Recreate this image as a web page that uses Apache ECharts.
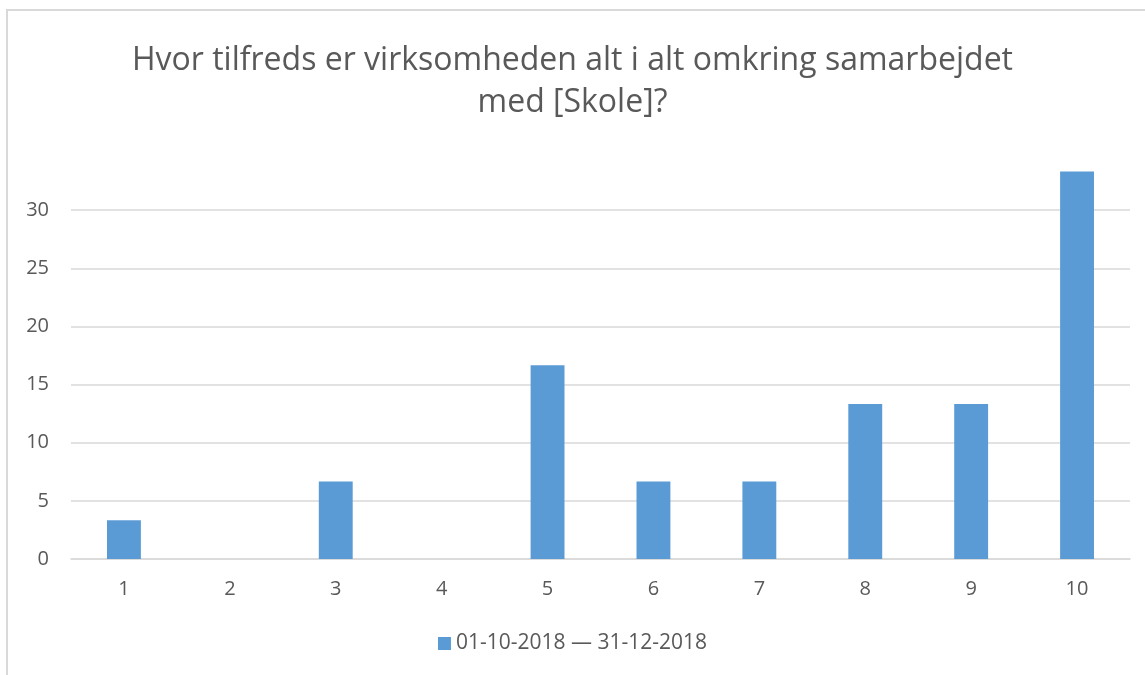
<!DOCTYPE html>
<html>
<head>
<meta charset="utf-8">
<script src="https://cdn.jsdelivr.net/npm/echarts@6/dist/echarts.min.js"></script>
<style>
  html, body { margin: 0; padding: 0; background: #fff; }
  #frame { position: absolute; left: 6px; top: 9px; width: 1200px; height: 700px; border: 2px solid #d9d9d9; }
  #main { position: absolute; left: 0; top: 0; width: 1145px; height: 675px; }
</style>
</head>
<body>
<div id="frame"></div>
<div id="main"></div>
<script>
var categories = ["1", "2", "3", "4", "5", "6", "7", "8", "9", "10"];
var values = [3.33, 0, 6.67, 0, 16.67, 6.67, 6.67, 13.33, 13.33, 33.33];
var seriesName = "01-10-2018 \u2014 31-12-2018";
var titleText = "Hvor tilfreds er virksomheden alt i alt omkring samarbejdet\nmed [Skole]?";

var font = "'Open Sans', 'Noto Sans', sans-serif";
var myChart = echarts.init(document.getElementById('main'));
myChart.setOption({
  animation: false,
  textStyle: { fontFamily: font },
  title: {
    text: titleText,
    left: 'center',
    top: 35,
    textStyle: { color: '#595959', fontSize: 32, fontWeight: 'normal', lineHeight: 42, fontFamily: font }
  },
  legend: {
    bottom: 16,
    left: 'center',
    itemWidth: 13,
    itemHeight: 13,
    itemGap: 5,
    icon: 'rect',
    textStyle: { color: '#595959', fontSize: 21, fontFamily: font },
    data: [seriesName]
  },
  grid: { left: 71, right: 15, top: 152, bottom: 116 },
  xAxis: {
    type: 'category',
    data: categories,
    axisTick: { show: false },
    axisLine: { lineStyle: { color: '#d9d9d9', width: 1.5 } },
    axisLabel: { color: '#595959', fontSize: 20, margin: 20, fontFamily: font }
  },
  yAxis: {
    type: 'value',
    min: 0,
    max: 35,
    interval: 5,
    axisLine: { show: false },
    axisTick: { show: false },
    axisLabel: { color: '#595959', fontSize: 20, margin: 22, showMaxLabel: false, fontFamily: font },
    splitLine: { lineStyle: { color: ['#d9d9d9', '#d9d9d9', '#d9d9d9', '#d9d9d9', '#d9d9d9', '#d9d9d9', '#d9d9d9', 'transparent'], width: 1.5 } }
  },
  series: [{
    name: seriesName,
    type: 'bar',
    data: values,
    barWidth: '32%',
    itemStyle: { color: '#5b9bd5' }
  }]
});
</script>
</body>
</html>
